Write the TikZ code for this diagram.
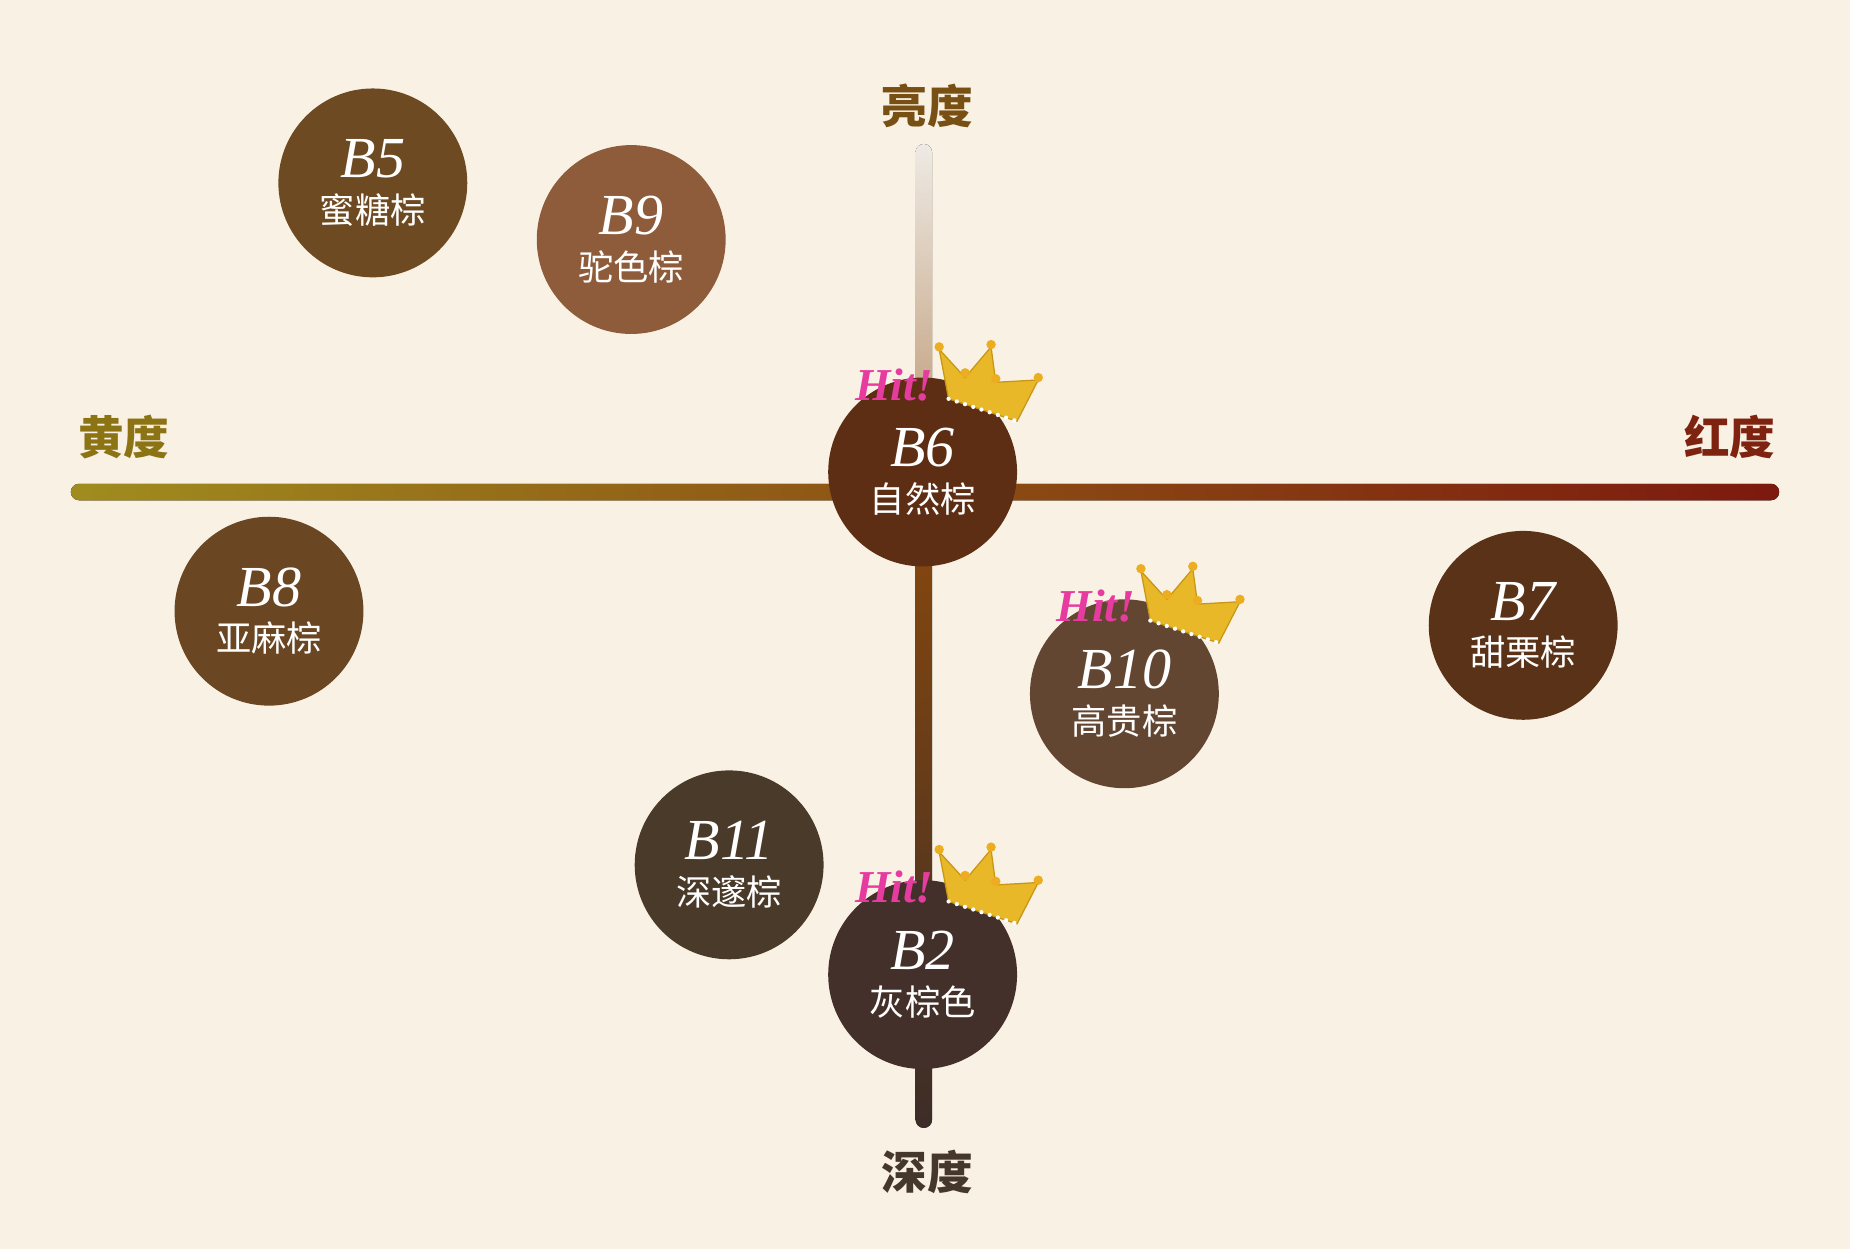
\documentclass[tikz,border=0pt]{standalone}
\usepackage{fontspec}
\usetikzlibrary{calc}
\newfontfamily\cjk{Noto Sans CJK SC}
\newfontfamily\lserif{Liberation Serif}
\begin{document}
\begin{tikzpicture}[x=0.01cm,y=-0.01cm,
  dot/.style={circle,minimum size=1.6cm,inner sep=0pt,text=white,align=center,font=\cjk\fontsize{8.5}{10}\selectfont},
  axlab/.style={font=\cjk\bfseries\fontsize{11}{12}\selectfont},
  hit/.style={font=\lserif\itshape\bfseries\fontsize{11}{11}\selectfont,text={rgb,255:red,230;green,60;blue,160}}]
\useasboundingbox[fill={rgb,255:red,249;green,242;blue,228}] (0,0) rectangle (1568,1059);
\definecolor{gold}{RGB}{232,184,40}
\tikzset{pics/crown/.style={code={
  \fill[gold,draw={rgb,255:red,200;green,150;blue,20},line width=0.3pt] (22,-62) -- (14,-104) -- (36,-80) -- (58,-106) -- (62,-76) -- (98,-78) -- (80,-43) -- cycle;
  \foreach \p in {(14,-106),(58,-108),(98,-80),(36,-84),(62,-79)} \fill[gold!80!orange] \p circle (4);
  \foreach \t in {0,0.12,...,1.0} \fill[white] ($(22,-62)!\t!(80,-43)$) circle (1.8);
  \node[hit] at (-24,-74) {Hit!};
}}}
% axes
\fill[left color={rgb,255:red,160;green,140;blue,30},right color={rgb,255:red,140;green,80;blue,20},rounded corners=2pt] (60,410) rectangle (790,424);
\fill[left color={rgb,255:red,140;green,80;blue,20},right color={rgb,255:red,125;green,25;blue,15},rounded corners=2pt] (775,410) rectangle (1508,424);
\fill[top color={rgb,255:red,238;green,234;blue,228},bottom color={rgb,255:red,200;green,170;blue,140},rounded corners=2pt] (776,122) rectangle (790,330);
\fill[top color={rgb,255:red,130;green,70;blue,15},bottom color={rgb,255:red,60;green,45;blue,40},rounded corners=2pt] (776,470) rectangle (790,956);
\node[axlab,text={rgb,255:red,120;green,80;blue,20}] (lt) at (786,90) {亮度};
\node[axlab,text={rgb,255:red,140;green,115;blue,20}] (ll) at (105,370) {黄度};
\node[axlab,text={rgb,255:red,125;green,35;blue,15}] (lr) at (1466,370) {红度};
\node[axlab,text={rgb,255:red,70;green,55;blue,45}] (lb) at (786,993) {深度};
\newcommand\dotlabel[2]{{\lserif\itshape\fontsize{14}{14}\selectfont #1}\\[1pt]#2}
\node[dot,fill={rgb,255:red,110;green,74;blue,34}] (b5) at (316,155) {\dotlabel{B5}{蜜糖棕}};
\node[dot,fill={rgb,255:red,142;green,92;blue,58}] (b9) at (535,203) {\dotlabel{B9}{驼色棕}};
\node[dot,fill={rgb,255:red,94;green,46;blue,20}] (b6) at (782,400) {\dotlabel{B6}{自然棕}};
\node[dot,fill={rgb,255:red,106;green,70;blue,34}] (b8) at (228,518) {\dotlabel{B8}{亚麻棕}};
\node[dot,fill={rgb,255:red,99;green,70;blue,50}] (b10) at (953,588) {\dotlabel{B10}{高贵棕}};
\node[dot,fill={rgb,255:red,90;green,50;blue,24}] (b7) at (1291,530) {\dotlabel{B7}{甜栗棕}};
\node[dot,fill={rgb,255:red,74;green,58;blue,42}] (b11) at (618,733) {\dotlabel{B11}{深邃棕}};
\node[dot,fill={rgb,255:red,68;green,48;blue,42}] (b2) at (782,826) {\dotlabel{B2}{灰棕色}};
\pic at (b6) {crown};
\pic at (b10) {crown};
\pic at (b2) {crown};
\end{tikzpicture}
\end{document}
